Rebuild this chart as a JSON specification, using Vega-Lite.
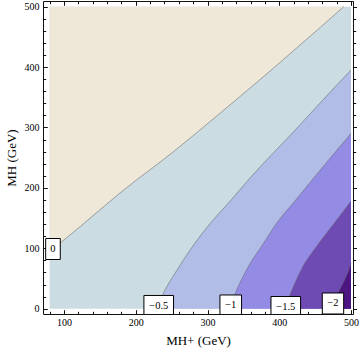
{
  "$schema": "https://vega.github.io/schema/vega-lite/v6.json",
  "autosize": {"type": "none"},
  "width": 310,
  "height": 313,
  "padding": {"left": 43, "top": 1, "right": 7, "bottom": 39},
  "background": "white",
  "config": {
    "view": {"stroke": null},
    "axis": {
      "grid": false,
      "zindex": 1,
      "domainColor": "#111",
      "domainWidth": 1,
      "tickColor": "#111",
      "tickWidth": 1,
      "labelFont": "Liberation Serif",
      "labelFontSize": 10,
      "labelColor": "#000",
      "labelFlush": false,
      "labelOverlap": false,
      "labelBound": false,
      "titleFont": "Liberation Serif",
      "titleFontSize": 13,
      "titleFontWeight": "normal",
      "titleColor": "#000"
    }
  },
  "datasets": {
    "contours": [
      {"level": "base", "x": 80, "y": 500},
      {"level": "base", "x": 500, "y": 500},
      {"level": "0", "x": 80, "y": 95},
      {"level": "0", "x": 96, "y": 110},
      {"level": "0", "x": 203, "y": 215},
      {"level": "0", "x": 220, "y": 230},
      {"level": "0", "x": 345, "y": 351},
      {"level": "0", "x": 359, "y": 365},
      {"level": "0", "x": 490, "y": 500},
      {"level": "-0.5", "x": 230, "y": 0},
      {"level": "-0.5", "x": 234, "y": 12},
      {"level": "-0.5", "x": 238, "y": 24},
      {"level": "-0.5", "x": 245, "y": 40},
      {"level": "-0.5", "x": 257, "y": 63},
      {"level": "-0.5", "x": 275, "y": 96},
      {"level": "-0.5", "x": 303, "y": 140},
      {"level": "-0.5", "x": 333, "y": 180},
      {"level": "-0.5", "x": 359, "y": 216},
      {"level": "-0.5", "x": 420, "y": 293},
      {"level": "-0.5", "x": 480, "y": 370},
      {"level": "-0.5", "x": 500, "y": 395},
      {"level": "-1", "x": 331, "y": 0},
      {"level": "-1", "x": 334, "y": 11},
      {"level": "-1", "x": 338, "y": 23},
      {"level": "-1", "x": 345, "y": 42},
      {"level": "-1", "x": 359, "y": 74},
      {"level": "-1", "x": 378, "y": 108},
      {"level": "-1", "x": 396, "y": 141},
      {"level": "-1", "x": 423, "y": 180},
      {"level": "-1", "x": 461, "y": 235},
      {"level": "-1", "x": 500, "y": 290},
      {"level": "-1.5", "x": 409, "y": 0},
      {"level": "-1.5", "x": 415, "y": 23},
      {"level": "-1.5", "x": 419.5, "y": 36},
      {"level": "-1.5", "x": 433, "y": 70},
      {"level": "-1.5", "x": 452, "y": 103},
      {"level": "-1.5", "x": 475, "y": 139},
      {"level": "-1.5", "x": 500, "y": 178},
      {"level": "-2", "x": 477, "y": 0},
      {"level": "-2", "x": 481, "y": 22},
      {"level": "-2", "x": 487, "y": 38},
      {"level": "-2", "x": 492, "y": 50},
      {"level": "-2", "x": 498, "y": 68},
      {"level": "-2", "x": 500, "y": 76}
    ],
    "labels": [
      {"label": "0", "x": 84.6, "y": 98.8},
      {"label": "−0.5", "x": 232, "y": 4.5},
      {"label": "−1", "x": 332.4, "y": 5.3},
      {"label": "−1.5", "x": 409.1, "y": 2.8},
      {"label": "−2", "x": 474.9, "y": 8.6}
    ]
  },
  "resolve": {"axis": {"x": "independent", "y": "independent"}},
  "layer": [
    {
      "data": {"name": "contours"},
      "transform": [{"filter": "datum.level !== '0'"}],
      "mark": {"type": "area", "clip": true, "interpolate": "monotone"},
      "encoding": {
        "x": {
          "field": "x", "type": "quantitative",
          "scale": {"domain": [70.7, 502.8], "nice": false, "zero": false},
          "axis": {
            "orient": "bottom",
            "title": "MH+ (GeV)",
            "values": [80, 100, 120, 140, 160, 180, 200, 220, 240, 260, 280, 300, 320, 340, 360, 380, 400, 420, 440, 460, 480, 500],
            "labelExpr": "datum.value % 100 === 0 ? datum.label : ''",
            "tickSize": {"condition": {"test": "datum.value % 100 === 0", "value": -4.3}, "value": -2.7},
            "labelPadding": 7.8,
            "titlePadding": 5
          }
        },
        "y": {
          "field": "y", "type": "quantitative", "stack": null,
          "scale": {"domain": [-8.8, 509.4], "nice": false, "zero": false},
          "axis": {
            "orient": "left",
            "title": "MH (GeV)",
            "values": [0, 20, 40, 60, 80, 100, 120, 140, 160, 180, 200, 220, 240, 260, 280, 300, 320, 340, 360, 380, 400, 420, 440, 460, 480, 500],
            "labelExpr": "datum.value % 100 === 0 ? datum.label : ''",
            "tickSize": {"condition": {"test": "datum.value % 100 === 0", "value": -4.3}, "value": -2.7},
            "labelPadding": 8.3,
            "titlePadding": 6
          }
        },
        "y2": {"datum": 0},
        "color": {
          "field": "level", "type": "nominal",
          "scale": {"domain": ["base", "-0.5", "-1", "-1.5", "-2"], "range": ["#CBDCE3", "#B1BCE7", "#938BE4", "#6D4BB3", "#4C1581"]},
          "legend": null
        }
      }
    },
    {
      "data": {"name": "contours"},
      "transform": [{"filter": "datum.level === '0'"}],
      "mark": {"type": "area", "clip": true, "interpolate": "monotone", "color": "#EFE7D8"},
      "encoding": {
        "x": {"field": "x", "type": "quantitative", "axis": null},
        "y": {"field": "y", "type": "quantitative", "stack": null, "axis": null},
        "y2": {"datum": 500}
      }
    },
    {
      "data": {"name": "contours"},
      "transform": [{"filter": "datum.level !== 'base'"}],
      "mark": {"type": "line", "stroke": "#666666", "strokeWidth": 0.8, "opacity": 0.7, "clip": true, "interpolate": "monotone"},
      "encoding": {
        "x": {
          "field": "x", "type": "quantitative",
          "axis": {
            "orient": "top", "title": null, "labels": false,
            "values": [80, 100, 120, 140, 160, 180, 200, 220, 240, 260, 280, 300, 320, 340, 360, 380, 400, 420, 440, 460, 480, 500],
            "tickSize": {"condition": {"test": "datum.value % 100 === 0", "value": -4.3}, "value": -2.7}
          }
        },
        "y": {
          "field": "y", "type": "quantitative",
          "axis": {
            "orient": "right", "title": null, "labels": false,
            "values": [0, 20, 40, 60, 80, 100, 120, 140, 160, 180, 200, 220, 240, 260, 280, 300, 320, 340, 360, 380, 400, 420, 440, 460, 480, 500],
            "tickSize": {"condition": {"test": "datum.value % 100 === 0", "value": 3.5}, "value": 2.7}
          }
        },
        "detail": {"field": "level"}
      }
    },
    {
      "data": {"name": "labels"},
      "mark": {"type": "point", "filled": true, "fill": "white", "stroke": "black", "strokeWidth": 1, "opacity": 1, "size": 400, "clip": true},
      "encoding": {
        "x": {"field": "x", "type": "quantitative", "axis": null},
        "y": {"field": "y", "type": "quantitative", "axis": null},
        "shape": {
          "field": "label", "type": "nominal", "legend": null,
          "scale": {
            "domain": ["0", "−0.5", "−1", "−1.5", "−2"],
            "range": ["M-0.73,-1.05H0.73V1.05H-0.73Z", "M-1.48,-1.05H1.48V1.05H-1.48Z", "M-1.08,-1.05H1.08V1.05H-1.08Z", "M-1.48,-1.05H1.48V1.05H-1.48Z", "M-1.07,-1.05H1.07V1.05H-1.07Z"]
          }
        }
      }
    },
    {
      "data": {"name": "labels"},
      "mark": {"type": "text", "font": "Liberation Serif", "fontSize": 10.5, "baseline": "middle", "align": "center", "color": "black", "clip": true},
      "encoding": {
        "x": {"field": "x", "type": "quantitative", "axis": null},
        "y": {"field": "y", "type": "quantitative", "axis": null},
        "text": {"field": "label"}
      }
    }
  ]
}
